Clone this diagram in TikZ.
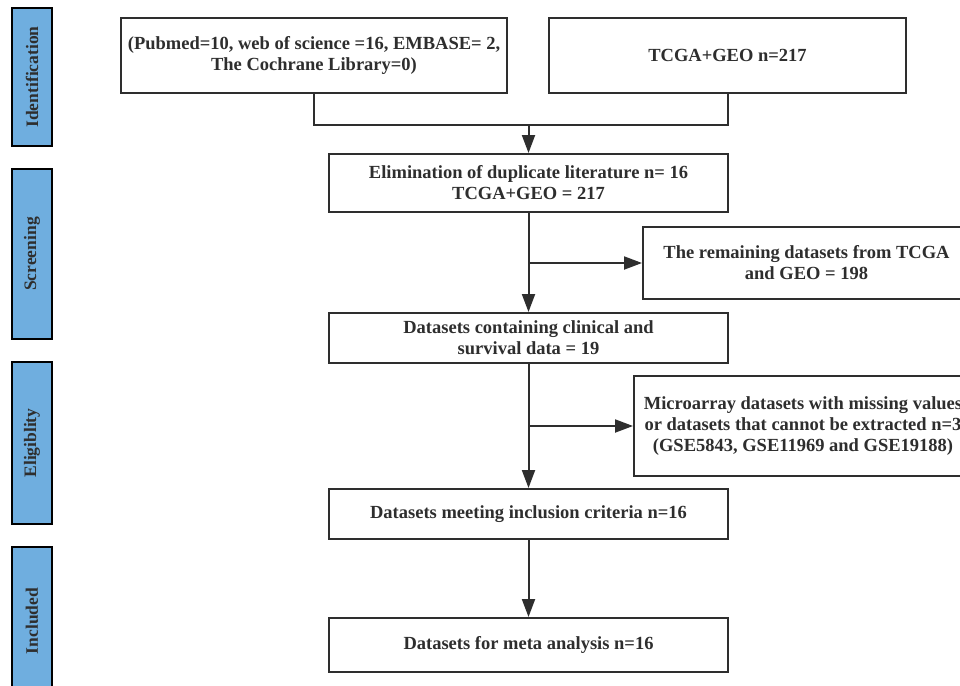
\documentclass[tikz,border=0pt]{standalone}
\usepackage{fontspec}
\setmainfont{Liberation Serif}
\usetikzlibrary{arrows.meta}
\definecolor{barblue}{HTML}{6FAEDF}
\definecolor{ink}{HTML}{2E2E2E}
\tikzset{
  box/.style={draw=ink, line width=2pt, fill=white, align=center, inner sep=0pt,
    font=\fontsize{18.5}{21}\selectfont\bfseries, text=ink},
  phase/.style={draw=black, line width=2.2pt, fill=barblue, rotate=90, inner sep=0pt,
    minimum height=40pt, font=\fontsize{17.5}{20}\selectfont\bfseries, text=ink},
  conn/.style={draw=ink, line width=2pt},
  arr/.style={conn, -{Triangle[length=18pt,width=13pt]}}
}
\begin{document}
\begin{tikzpicture}[x=1pt,y=-1pt]
\clip (0,0) rectangle (960,685);
\fill[white] (0,0) rectangle (960,685);
% phase bars
\node[phase, minimum width=138pt] (p1) at (32,77) {Identification};
\node[phase, minimum width=170pt] (p2) at (32,254) {Screening};
\node[phase, minimum width=162pt] (p3) at (32,443) {Eligiblity};
\node[phase, minimum width=148pt] (p4) at (32,621) {Included};
% boxes
\node[box, minimum width=386pt, minimum height=75pt] (b1) at (314,55.5)
  {(Pubmed=10, web of science =16, EMBASE= 2,\\The Cochrane Library=0)};
\node[box, minimum width=357pt, minimum height=75pt] (b2) at (727.5,55.5)
  {TCGA+GEO n=217};
\node[box, minimum width=399pt, minimum height=58pt] (b3) at (528.5,183)
  {Elimination of duplicate literature n= 16\\TCGA+GEO = 217};
\node[box, minimum width=327pt, minimum height=72pt] (s1) at (806.5,263)
  {The remaining datasets from TCGA\\and GEO = 198};
\node[box, minimum width=399pt, minimum height=50pt] (b4) at (528.5,338)
  {Datasets containing clinical and\\survival data = 19};
\node[box, minimum width=338pt, minimum height=100pt] (s2) at (803,426)
  {Microarray datasets with missing values\\or datasets that cannot be extracted n=3\\(GSE5843, GSE11969 and GSE19188)};
\node[box, minimum width=399pt, minimum height=50pt] (b5) at (528.5,514)
  {Datasets meeting inclusion criteria n=16};
\node[box, minimum width=399pt, minimum height=54pt] (b6) at (528.5,645)
  {Datasets for meta analysis n=16};
% junctions
\coordinate (j1) at (528.5,125);
\coordinate (j2) at (528.5,263);
\coordinate (j3) at (528.5,426);
% connectors
\draw[conn] (b1.south) |- (j1) -| (b2.south);
\draw[arr] (j1) -- (b3.north);
\draw[arr] (b3.south) -- (b4.north);
\draw[arr] (j2) -- (s1.west);
\draw[arr] (b4.south) -- (b5.north);
\draw[arr] (j3) -- (s2.west);
\draw[arr] (b5.south) -- (b6.north);
\end{tikzpicture}
\end{document}
